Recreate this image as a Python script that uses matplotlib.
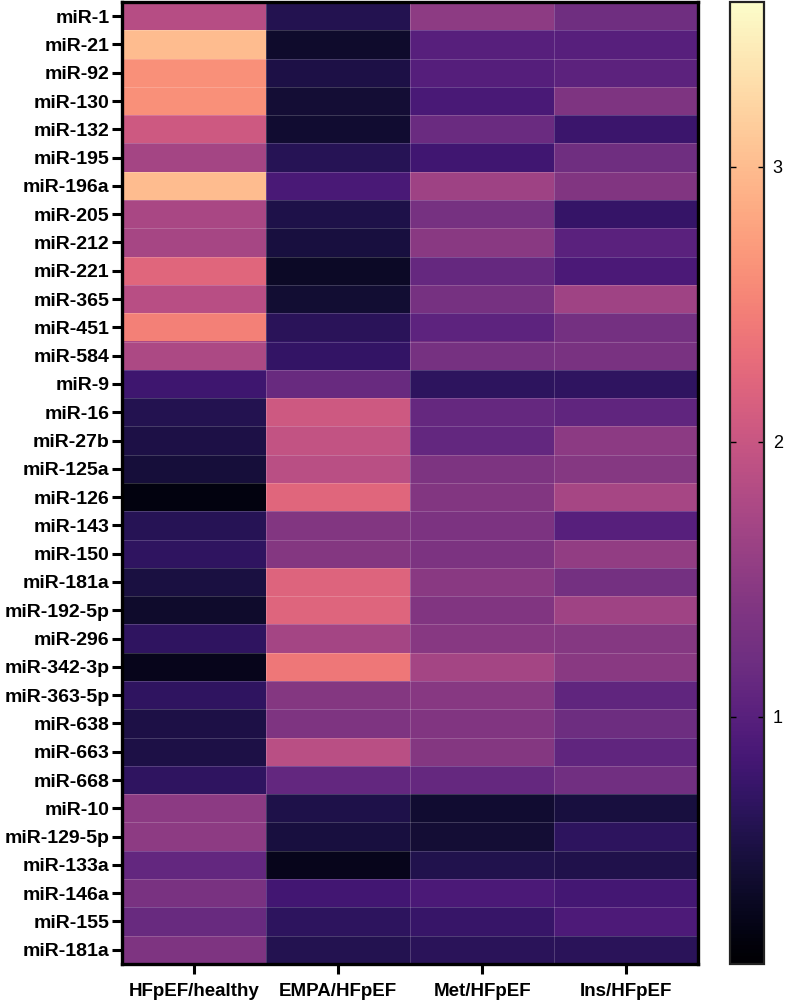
import numpy as np
import matplotlib
matplotlib.use("Agg")
import matplotlib.pyplot as plt
from matplotlib import font_manager
from matplotlib.colors import ListedColormap, rgb_to_hsv, hsv_to_rgb

mirnas = ["miR-1", "miR-21", "miR-92", "miR-130", "miR-132", "miR-195", "miR-196a",
          "miR-205", "miR-212", "miR-221", "miR-365", "miR-451", "miR-584", "miR-9",
          "miR-16", "miR-27b", "miR-125a", "miR-126", "miR-143", "miR-150", "miR-181a",
          "miR-192-5p", "miR-296", "miR-342-3p", "miR-363-5p", "miR-638", "miR-663",
          "miR-668", "miR-10", "miR-129-5p", "miR-133a", "miR-146a", "miR-155", "miR-181a"]
comparisons = ["HFpEF/healthy", "EMPA/HFpEF", "Met/HFpEF", "Ins/HFpEF"]

hfpef_healthy = [1.85, 3.00, 2.62, 2.62, 2.05, 1.70, 3.00, 1.75, 1.72, 2.22, 1.87, 2.48, 1.78,
                 0.80, 0.60, 0.55, 0.48, 0.20, 0.62, 0.70, 0.52, 0.40, 0.70, 0.28, 0.70, 0.55,
                 0.55, 0.70, 1.50, 1.52, 1.10, 1.33, 1.15, 1.38]
empa_hfpef = [0.60, 0.40, 0.55, 0.45, 0.42, 0.62, 0.88, 0.56, 0.50, 0.35, 0.43, 0.65, 0.72,
              1.15, 2.05, 1.95, 1.88, 2.22, 1.42, 1.43, 2.20, 2.21, 1.70, 2.40, 1.43, 1.38,
              1.88, 1.10, 0.56, 0.50, 0.28, 0.83, 0.68, 0.60]
met_hfpef = [1.52, 1.00, 0.98, 0.88, 1.18, 0.82, 1.65, 1.30, 1.48, 1.12, 1.30, 1.05, 1.30,
             0.68, 1.12, 1.10, 1.37, 1.42, 1.35, 1.35, 1.48, 1.40, 1.46, 1.70, 1.46, 1.40,
             1.43, 1.12, 0.42, 0.45, 0.58, 0.90, 0.75, 0.66]
ins_hfpef = [1.22, 1.00, 1.03, 1.38, 0.78, 1.22, 1.40, 0.74, 1.02, 0.90, 1.66, 1.27, 1.33,
             0.70, 1.08, 1.50, 1.45, 1.72, 1.00, 1.55, 1.27, 1.66, 1.44, 1.48, 1.08, 1.20,
             1.08, 1.24, 0.50, 0.68, 0.57, 0.85, 0.92, 0.66]

cbar_ticks = [1, 2, 3]
vmin, vmax = 0.1, 3.6

data = np.column_stack([hfpef_healthy, empa_hfpef, met_hfpef, ins_hfpef])

# magma, slightly desaturated in its brighter part, as in the reference rendering
f = np.linspace(0, 1, 256)
base = plt.get_cmap('magma')(f)[:, :3]
hsv = rgb_to_hsv(base)
hsv[:, 1] *= 1 - 0.18 * np.clip((f - 0.12) / 0.2, 0, 1)
cmap = ListedColormap(hsv_to_rgb(hsv))

plt.rcParams['font.family'] = ['Liberation Sans', 'DejaVu Sans']
names = {fo.name for fo in font_manager.fontManager.ttflist}
if 'Liberation Sans Narrow' in names:
    xfam, xsize = ['Liberation Sans Narrow', 'Liberation Sans'], 16
else:
    xfam, xsize = ['Liberation Sans', 'DejaVu Sans'], 13.5

fig = plt.figure(figsize=(7.88, 10.02), dpi=100)
ax = fig.add_axes([0.155, 0.038, 0.731, 0.960])
cax = fig.add_axes([0.927, 0.038, 0.043, 0.960])

im = ax.imshow(data, cmap=cmap, vmin=vmin, vmax=vmax, aspect='auto',
               interpolation='nearest')

ax.set_xticks(np.arange(len(comparisons)))
ax.set_xticklabels(comparisons, fontsize=xsize, fontweight='bold', family=xfam)
ax.set_yticks(np.arange(len(mirnas)))
ax.set_yticklabels(mirnas, fontsize=14, fontweight='bold')

ax.set_xticks(np.arange(-0.5, len(comparisons), 1), minor=True)
ax.set_yticks(np.arange(-0.5, len(mirnas), 1), minor=True)
ax.grid(which='minor', color='white', alpha=0.22, linewidth=0.6)
ax.tick_params(which='minor', length=0)
ax.tick_params(axis='both', which='major', length=7, width=2.2, color='black')
ax.tick_params(axis='x', pad=7)
ax.tick_params(axis='y', pad=2)
for s in ax.spines.values():
    s.set_linewidth(2.4)
    s.set_color('black')

cb = fig.colorbar(im, cax=cax, ticks=cbar_ticks)
cb.outline.set_linewidth(1.6)
cb.outline.set_edgecolor('#222222')
cax.yaxis.set_ticks_position('both')
cax.tick_params(direction='in', length=4, width=1.0, labelsize=13, pad=6,
                left=True, right=True, labelleft=False, labelright=True)

fig.savefig('out.png', dpi=100)
